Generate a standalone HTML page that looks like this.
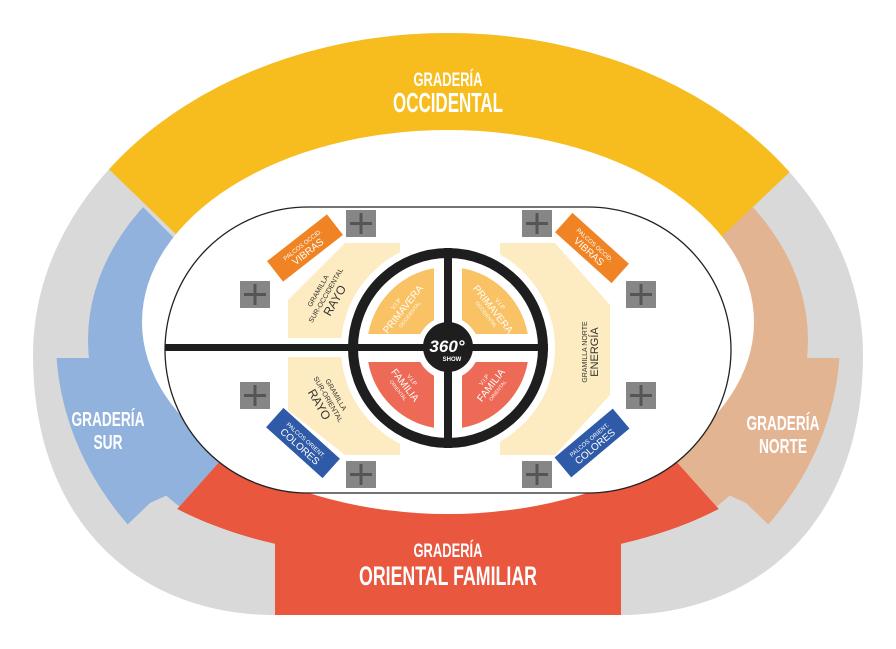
<!DOCTYPE html>
<html><head><meta charset="utf-8"><style>html,body{margin:0;padding:0;background:#fff}svg{display:block}text{font-family:"Liberation Sans Narrow","Liberation Sans",sans-serif}</style></head><body>
<svg width="896" height="649" viewBox="0 0 896 649" xmlns="http://www.w3.org/2000/svg">
<defs>
<clipPath id="cy"><polygon points="0,0 896,0 896,71 448,497 0,64"/></clipPath>
<clipPath id="cb"><polygon points="0,64 300,364 275,400 100,595 0,700"/></clipPath>
<clipPath id="cbl"><polygon points="0,358 300,358 275,400 205,478 150,503 125,527 0,650"/></clipPath>
<clipPath id="cp"><polygon points="896,71 600,352 621,400 796,595 896,649"/></clipPath>
<clipPath id="cpl"><polygon points="896,358 600,358 621,400 691,478 746,503 771,527 896,650"/></clipPath>
<clipPath id="cr"><polygon points="275,400 100,595 0,649 896,649 796,595 621,400"/></clipPath>
<clipPath id="ann"><path fill-rule="evenodd" d="M448,267 a81,81 0 1,0 0.01,0 Z M448,317 a31,31 0 1,1 -0.01,0 Z"/></clipPath>
<clipPath id="outer"><path d="M33,355 A415,322 0 0,1 863,355 C863,520 760,615 620,615 L275,615 C136,615 33,520 33,355 Z"/></clipPath>
</defs>
<path d="M33,355 A415,322 0 0,1 863,355 C863,520 760,615 620,615 L275,615 C136,615 33,520 33,355 Z" fill="#d9d9d9"/>
<g clip-path="url(#outer)"><rect x="0" y="0" width="896" height="649" fill="#f7bd1e" clip-path="url(#cy)"/></g>
<g clip-path="url(#cb)">
<ellipse cx="448" cy="340" rx="360" ry="250" fill="#91b2dd"/>
</g>
<g clip-path="url(#cbl)"><ellipse cx="448" cy="340" rx="392" ry="320" fill="#91b2dd"/></g>
<g clip-path="url(#cp)"><ellipse cx="448" cy="340" rx="360" ry="250" fill="#e3b491"/></g>
<g clip-path="url(#cpl)"><ellipse cx="448" cy="340" rx="392" ry="320" fill="#e3b491"/></g>
<g clip-path="url(#cr)"><path d="M80,400 L816,400 L816,430 C736,530 606,560 448,562 C290,560 160,530 80,430 Z" fill="#e8573e"/></g>
<rect x="275" y="500" width="346" height="115" fill="#e8573e"/>
<ellipse cx="448" cy="322" rx="306" ry="192" fill="#fff"/>
<rect x="165" y="207" width="566" height="286" rx="143" ry="143" fill="#fff" stroke="#222" stroke-width="1.3"/>

<g fill="#fdebc1">
<polygon points="345,243 400,243 400,338 288,338 288,300"/>
<polygon points="288,357 400,357 400,455 345,455 288,410"/>
<polygon points="500,243 555,243 610,305 610,395 555,455 500,455"/>
</g>
<circle cx="448" cy="348" r="107" fill="#fff"/>

<g fill="#868686">
<rect x="346" y="210" width="30" height="27"/><rect x="522" y="210" width="30" height="27"/>
<rect x="240" y="281" width="30" height="27"/><rect x="626" y="281" width="30" height="27"/>
<rect x="240" y="382" width="30" height="27"/><rect x="626" y="382" width="30" height="27"/>
<rect x="346" y="461" width="30" height="27"/><rect x="522" y="461" width="30" height="27"/>
</g>
<g stroke="#555" stroke-width="3">
<path d="M350,223.5h22M361,213v21M526,223.5h22M537,213v21M244,294.5h22M255,284v21M630,294.5h22M641,284v21M244,395.5h22M255,385v21M630,395.5h22M641,385v21M350,474.5h22M361,464v21M526,474.5h22M537,464v21"/>
</g>

<g transform="translate(305,248) rotate(-38)"><rect x="-38" y="-13" width="76" height="26" fill="#f08424"/>
<text x="0" y="-2" font-size="6" fill="#fff" text-anchor="middle">PALCOS OCCID.</text><text x="0" y="8" font-size="10" fill="#fff" text-anchor="middle">VIBRAS</text></g>
<g transform="translate(592,248) rotate(42)"><rect x="-38" y="-13" width="76" height="26" fill="#f08424"/>
<text x="0" y="-2" font-size="6" fill="#fff" text-anchor="middle">PALCOS OCCID.</text><text x="0" y="8" font-size="10" fill="#fff" text-anchor="middle">VIBRAS</text></g>
<g transform="translate(303,443) rotate(42)"><rect x="-38" y="-13" width="76" height="26" fill="#2f5aa8"/>
<text x="0" y="-2" font-size="6" fill="#fff" text-anchor="middle">PALCOS ORIENT.</text><text x="0" y="8" font-size="10" fill="#fff" text-anchor="middle">COLORES</text></g>
<g transform="translate(592,443) rotate(-40)"><rect x="-38" y="-13" width="76" height="26" fill="#2f5aa8"/>
<text x="0" y="-2" font-size="6" fill="#fff" text-anchor="middle">PALCOS ORIENT.</text><text x="0" y="8" font-size="10" fill="#fff" text-anchor="middle">COLORES</text></g>

<g clip-path="url(#ann)">
<rect x="360" y="260" width="74" height="74" fill="#f9c265"/>
<rect x="462" y="260" width="74" height="74" fill="#f9c265"/>
<rect x="360" y="362" width="74" height="74" fill="#ed6a56"/>
<rect x="462" y="362" width="74" height="74" fill="#ed6a56"/>
</g>
<line x1="165" y1="347.5" x2="548" y2="347.5" stroke="#1e1e1e" stroke-width="7"/>
<line x1="448" y1="248" x2="448" y2="448" stroke="#1e1e1e" stroke-width="8"/>
<circle cx="448" cy="348" r="95" fill="none" stroke="#1e1e1e" stroke-width="10"/>
<circle cx="448" cy="347" r="25" fill="#1e1e1e"/>
<text x="447" y="352" font-size="17" font-weight="bold" font-style="italic" fill="#fff" text-anchor="middle">360°</text>
<text x="452" y="361" font-size="6" font-weight="bold" fill="#fff" text-anchor="middle">SHOW</text>

<g fill="#fff" text-anchor="middle">
<g transform="translate(404,310) rotate(-52)"><text y="-8" font-size="6">V.I.P</text><text y="2" font-size="10">PRIMAVERA</text><text y="9" font-size="5">OCCIDENTAL</text></g>
<g transform="translate(492,310) rotate(52)"><text y="-8" font-size="6">V.I.P</text><text y="2" font-size="10">PRIMAVERA</text><text y="9" font-size="5">OCCIDENTAL</text></g>
<g transform="translate(404,386) rotate(52)"><text y="-8" font-size="6">V.I.P</text><text y="2" font-size="10">FAMILIA</text><text y="9" font-size="5">ORIENTAL</text></g>
<g transform="translate(492,386) rotate(-52)"><text y="-8" font-size="6">V.I.P</text><text y="2" font-size="10">FAMILIA</text><text y="9" font-size="5">ORIENTAL</text></g>
</g>

<g fill="#333" text-anchor="middle">
<g transform="translate(327,296) rotate(-60)"><text y="-8" font-size="7">GRAMILLA</text><text y="1" font-size="7">SUR-OCCIDENTAL</text><text y="13" font-size="12">RAYO</text></g>
<g transform="translate(327,400) rotate(60)"><text y="-8" font-size="7">GRAMILLA</text><text y="1" font-size="7">SUR-ORIENTAL</text><text y="13" font-size="12">RAYO</text></g>
<g transform="translate(590,352) rotate(-90)"><text y="-3" font-size="7">GRAMILLA NORTE</text><text y="8" font-size="11">ENERGÍA</text></g>
</g>

<g fill="#fff" text-anchor="middle" font-weight="bold">
<text x="448" y="86" font-size="19" textLength="69" lengthAdjust="spacingAndGlyphs">GRADERÍA</text>
<text x="448" y="112" font-size="28" textLength="110" lengthAdjust="spacingAndGlyphs">OCCIDENTAL</text>
<text x="108" y="426" font-size="20" textLength="73" lengthAdjust="spacingAndGlyphs">GRADERÍA</text>
<text x="108" y="449" font-size="20" textLength="29" lengthAdjust="spacingAndGlyphs">SUR</text>
<text x="783" y="430" font-size="20" textLength="73" lengthAdjust="spacingAndGlyphs">GRADERÍA</text>
<text x="783" y="453" font-size="20" textLength="48" lengthAdjust="spacingAndGlyphs">NORTE</text>
<text x="448" y="557" font-size="19" textLength="69" lengthAdjust="spacingAndGlyphs">GRADERÍA</text>
<text x="448" y="585" font-size="27" textLength="178" lengthAdjust="spacingAndGlyphs">ORIENTAL FAMILIAR</text>
</g>
</svg>
</body></html>
